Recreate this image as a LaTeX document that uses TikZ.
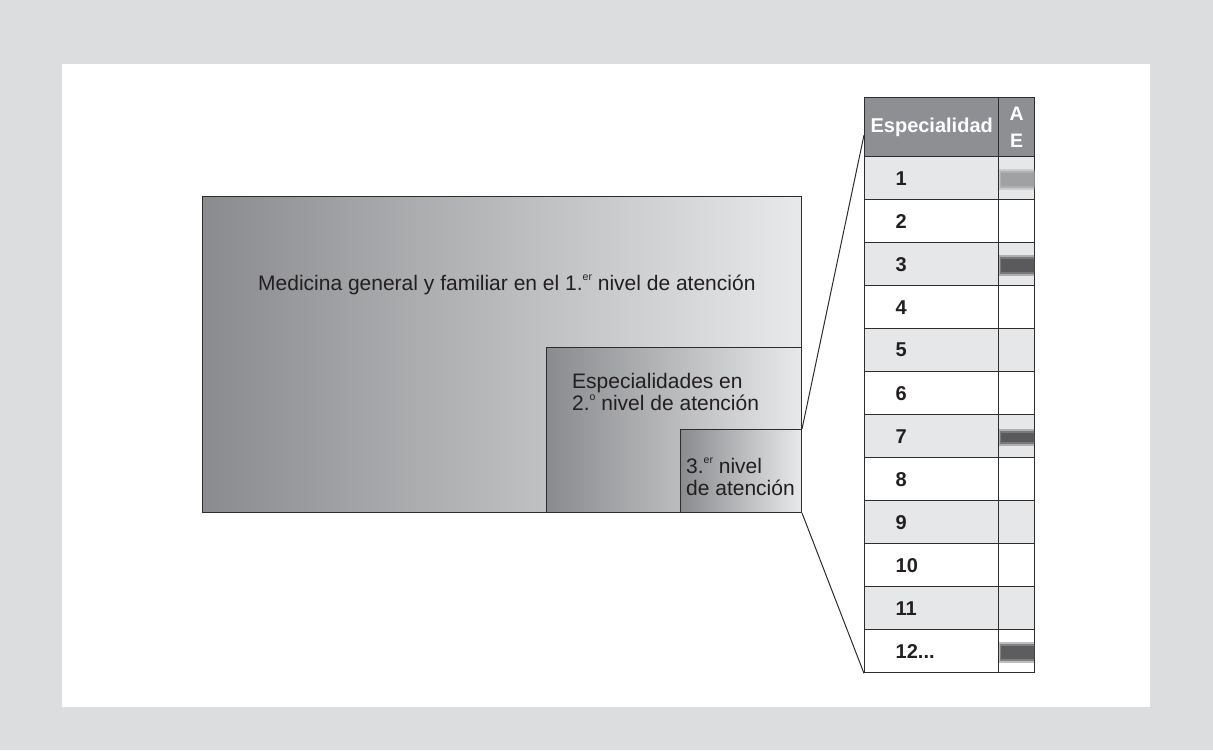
\documentclass[tikz,border=0pt]{standalone}
\usepackage{fontspec}
\setmainfont{Liberation Sans}
\usetikzlibrary{positioning}
\usetikzlibrary{calc}
\definecolor{bggray}{RGB}{220,221,223}
\definecolor{hdrgray}{RGB}{141,143,146}
\definecolor{rowgray}{RGB}{230,231,232}
\definecolor{darkfill}{RGB}{137,139,142}
\definecolor{lightfill}{RGB}{232,233,234}
\definecolor{linegray}{RGB}{45,45,45}
\definecolor{markdark}{RGB}{70,70,72}
\definecolor{marklight}{RGB}{150,151,153}
\definecolor{inktext}{RGB}{35,31,32}
\tikzset{level box/.style={draw=linegray,
                           line width=1pt,
                           inner sep=0pt,
                           anchor=north west,
                           left color=darkfill,
                           right color=lightfill}}
\tikzset{cell/.style={draw=linegray,
                      line width=1.4pt,
                      inner sep=0pt,
                      anchor=north west,
                      minimum height=43pt}}
\tikzset{body text/.style={font=\fontsize{21}{22}\selectfont,
                           text=inktext,
                           inner sep=0pt,
                           align=left}}
\tikzset{link/.style={draw=linegray,line width=1pt}}
\newcommand{\SUP}[1]{\raisebox{9.5pt}{\fontsize{10.5}{10.5}\selectfont #1}}

\begin{document}
\begin{tikzpicture}
      [
      x=1pt,y=-1pt,
      num/.style={cell,
      inner xsep=31pt,
      text width=72pt,
      align=left,
      text=inktext,
      font=\bfseries\fontsize{20}{22}\selectfont},
      ]

      % frame
      \fill [bggray] (0,0) rectangle (1213,750);
      \fill [white] (62,64) rectangle (1150,707);

      % levels
      \node [level box,minimum width=599pt,minimum height=316pt] (L1) at (202,196) {};
      \node [level box,minimum width=255pt,minimum height=165pt] (L2) at (546,347) {};
      \node [level box,minimum width=121pt,minimum height=83pt] (L3) at (680,429) {};

      \node [body text,anchor=base west] (T1) at (258,290)
      {Medicina general y familiar en el 1.\SUP{er} nivel de atención};
      \node [body text,anchor=north west] (T2) at (572,373)
      {Especialidades en\\2.\SUP{o} nivel de atención};
      \node [body text,anchor=north west] (T3) at (686,458)
      {3.\SUP{er} nivel\\de atención};

      % table head
      \node [cell,fill=hdrgray,minimum width=134pt,minimum height=59pt,text=white,
      font=\bfseries\fontsize{20}{22}\selectfont] (H) at (864,97) {Especialidad};
      \node [cell,fill=hdrgray,minimum width=36pt,minimum height=59pt,text=white,align=center,
      font=\bfseries\fontsize{19.5}{25}\selectfont] (HAE) at (998,97) {A\\[2pt]E};

      % rows
      \foreach \i/\n/\c [evaluate=\i as \y using 156+(\i-1)*43] in
      {
      1/1/rowgray,
      2/2/white,
      3/3/rowgray,
      4/4/white,
      5/5/rowgray,
      6/6/white,
      7/7/rowgray,
      8/8/white,
      9/9/rowgray,
      10/10/white,
      11/11/rowgray,
      12/12.{}.{}./white%
      }
      {
      \node [num,fill=\c] (R\i) at (864,\y) {\n};
      \node [cell,fill=\c,minimum width=36pt] (E\i) at (998,\y) {};
      }

      % marks (soft edges)
      \foreach \i/\s/\h in {1/marklight/10, 3/markdark/10, 7/markdark/8, 12/markdark/10}
      {
      \fill [\s,opacity=.35] ($(E\i.west)+(0.7,-\h+1)$) rectangle ($(E\i.east)+(-0.7,\h+2)$);
      \fill [\s,opacity=.5] ($(E\i.west)+(1.5,-\h+3)$) rectangle ($(E\i.east)+(-0.7,\h)$);
      \fill [\s,opacity=.6] ($(E\i.west)+(3,-\h+5)$) rectangle ($(E\i.east)+(-0.7,\h-2)$);
      }

      % zoom lines
      \draw [link] (L3.north east) -- ($(H.north west)!0.63!(H.south west)$);
      \draw [link] (L3.south east) -- (R12.south west);

\end{tikzpicture}
\end{document}
